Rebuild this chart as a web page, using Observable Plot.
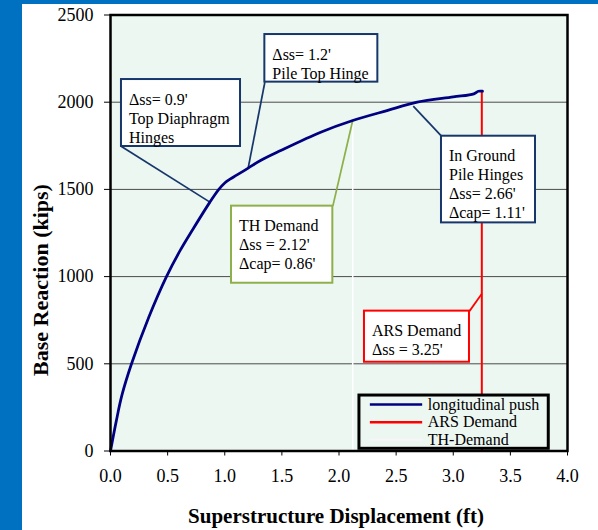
<!DOCTYPE html>
<html>
<head>
<meta charset="utf-8">
<script src="https://cdn.jsdelivr.net/npm/d3@7"></script>
<script src="https://cdn.jsdelivr.net/npm/@observablehq/plot@0.6"></script>
<style>
  html, body { margin: 0; padding: 0; background: white; }
  #page { position: relative; width: 598px; height: 530px; overflow: hidden; background: white; }
  .band { position: absolute; background: #0070C0; }
  #chart { position: absolute; left: 0; top: 0; }
</style>
</head>
<body>
<div id="page">
  <div class="band" style="left:0;top:0;width:21.5px;height:530px"></div>
  <div class="band" style="left:0;top:0;width:598px;height:4px"></div>
  <div id="chart"></div>
</div>
<script>
// Longitudinal pushover curve: superstructure displacement (ft) vs base reaction (kips)
const dispFt = [0, 0.05, 0.1, 0.184, 0.335, 0.49, 0.61, 0.72, 0.87, 0.948, 1.0, 1.05, 1.1, 1.205, 1.313, 1.49, 1.84, 2.12, 2.42, 2.685, 3.0, 3.18, 3.22, 3.256];
const reactionKips = [0, 170, 320, 500, 767, 1000, 1150, 1270, 1427, 1500, 1537, 1560, 1580, 1622, 1666, 1723, 1828, 1895, 1952, 2000, 2030, 2048, 2063, 2063];

// Demand displacements (ft)
const arsDemand = 3.25;
const thDemand = 2.12;

// Axis ticks
const xTicks = [0, 0.5, 1, 1.5, 2, 2.5, 3, 3.5, 4];
const yTicks = [0, 500, 1000, 1500, 2000, 2500];
const yGrid = [500, 1000, 1500, 2000];

// Text
const xTitle = "Superstructure Displacement (ft)";
const yTitle = "Base Reaction (kips)";
const legendNames = ["longitudinal push", "ARS Demand", "TH-Demand"];
const noteTexts = [
  "\u0394ss= 0.9'\nTop Diaphragm\nHinges",
  "\u0394ss= 1.2'\nPile Top Hinge",
  "TH Demand\n\u0394ss = 2.12'\n\u0394cap= 0.86'",
  "In Ground\nPile Hinges\n\u0394ss= 2.66'\n\u0394cap= 1.11'",
  "ARS Demand\n\u0394ss = 3.25'"
];

const curve = dispFt.map((x, i) => ({x, y: reactionKips[i]}));

const navy = "#000080";
const boxNavy = "#17376b";
const green = "#8db04a";
const red = "#ff0000";
const mint = "#edf7f2";

// Callout boxes (data units) with the point each leader points to
const callouts = [
  {x1: 0.096, x2: 1.138, y1: 1746, y2: 2130, ax: 0.096, ay: 1746, px: 0.87, py: 1427, color: boxNavy},
  {x1: 1.351, x2: 2.340, y1: 2115, y2: 2388, ax: 1.351, ay: 2115, px: 1.205, py: 1622, color: boxNavy},
  {x1: 1.059, x2: 1.946, y1: 962, y2: 1404, ax: 1.946, ay: 1404, px: thDemand, py: 1895, color: green},
  {x1: 2.897, x2: 3.720, y1: 1308, y2: 1805, ax: 2.897, ay: 1805, px: 2.65, py: 1978, color: boxNavy},
  {x1: 2.223, x2: 3.142, y1: 509, y2: 802, ax: 3.142, ay: 802, px: arsDemand, py: 901, color: red}
].map((d, i) => ({...d, label: noteTexts[i]}));

// Legend placement (data units)
const legendBox = [{x1: 2.179, x2: 3.836, y1: 12.6, y2: 318}];
const legendRows = legendNames.map((name, i) => ({
  name,
  y: [266.6, 165.1, 64.2][i],
  color: [navy, red, "#f6f6f6"][i]
}));

const chart = Plot.plot({
  width: 598,
  height: 530,
  marginLeft: 110,
  marginRight: 31,
  marginTop: 14.5,
  marginBottom: 79.5,
  style: {background: "transparent", fontFamily: "'Liberation Serif', 'Times New Roman', serif", fontSize: "18px", color: "black"},
  x: {domain: [0, 4], ticks: xTicks, tickFormat: d3.format(".1f"), tickSize: 5, tickPadding: 13, label: null},
  y: {domain: [0, 2500], ticks: yTicks, tickFormat: d3.format("d"), tickSize: 6, tickPadding: 11, label: null},
  color: {type: "identity"},
  marks: [
    Plot.frame({fill: mint, stroke: null}),
    Plot.ruleY(yGrid, {stroke: "#4a4a4a", strokeWidth: 1}),
    // TH demand marker (white)
    Plot.ruleX([thDemand], {y1: 0, y2: 1895, stroke: "white", strokeWidth: 1.5}),
    // ARS demand marker
    Plot.ruleX([arsDemand], {y1: 0, y2: 2063, stroke: red, strokeWidth: 2}),
    // leaders
    Plot.link(callouts, {x1: "ax", y1: "ay", x2: "px", y2: "py", stroke: "color", strokeWidth: 1.75}),
    // pushover curve
    Plot.line(curve, {x: "x", y: "y", stroke: navy, strokeWidth: 2.75, curve: "catmull-rom"}),
    // callout boxes
    Plot.rect(callouts, {x1: "x1", x2: "x2", y1: "y1", y2: "y2", fill: "white", stroke: "color", strokeWidth: 2}),
    Plot.text(callouts, {x: "x1", y: "y2", text: "label", textAnchor: "start", lineAnchor: "top", dx: 7.5, dy: 11.5, fontSize: 16, lineHeight: 1.19, fill: "black"}),
    // legend
    Plot.rect(legendBox, {x1: "x1", x2: "x2", y1: "y1", y2: "y2", fill: mint, stroke: "black", strokeWidth: 3}),
    Plot.link(legendRows, {x1: 2.270, x2: 2.728, y1: "y", y2: "y", stroke: "color", strokeWidth: 2.5}),
    Plot.text(legendRows, {x: 2.777, y: "y", text: "name", textAnchor: "start", fontSize: 16, fill: "black"}),
    // plot border
    Plot.frame({stroke: "black", strokeWidth: 2.5}),
    // axis titles
    Plot.text([xTitle], {frameAnchor: "bottom", text: d => d, textAnchor: "middle", lineAnchor: "middle", dy: 65.5, dx: -3, fontSize: 21, fontWeight: "bold", fill: "black"}),
    Plot.text([yTitle], {frameAnchor: "left", text: d => d, textAnchor: "middle", lineAnchor: "middle", rotate: -90, dx: -70, dy: 47, fontSize: 22, fontWeight: "bold", fill: "black"})
  ]
});

document.getElementById("chart").appendChild(chart);
</script>
</body>
</html>
